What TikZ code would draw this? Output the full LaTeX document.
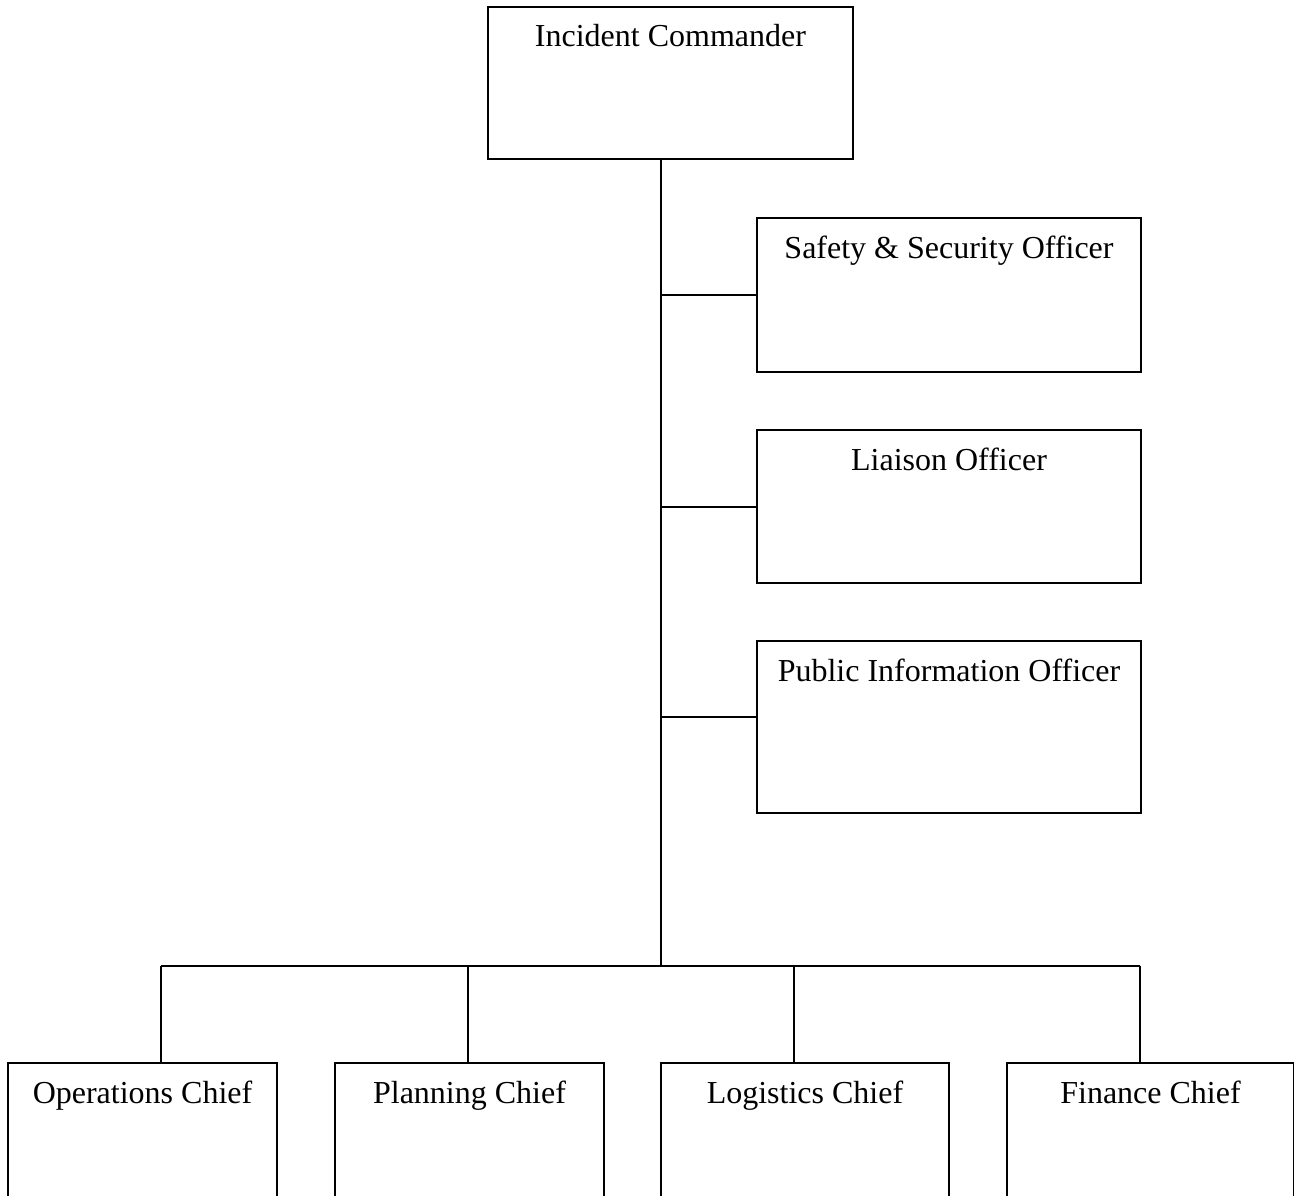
\documentclass[tikz,border=0pt]{standalone}
\usepackage{fontspec}
\setmainfont{Liberation Serif}
\begin{document}
\begin{tikzpicture}[x=1pt,y=-1pt,
  orgbox/.style={draw=black,line width=2pt,rectangle,anchor=north west,inner sep=0pt},
  lbl/.style={anchor=base,inner sep=0pt,font=\fontsize{32pt}{38pt}\selectfont},
  link/.style={draw=black,line width=2pt}]
\useasboundingbox (0,0) rectangle (1294,1196);
% top and staff boxes
\node[orgbox,minimum width=365pt,minimum height=152pt] (ic) at (487,6) {};
\node[orgbox,minimum width=384pt,minimum height=154pt] (safety) at (756,217) {};
\node[orgbox,minimum width=384pt,minimum height=153pt] (liaison) at (756,429) {};
\node[orgbox,minimum width=384pt,minimum height=172pt] (pio) at (756,640) {};
% section chiefs
\node[orgbox,minimum width=269pt,minimum height=134pt] (ops) at (7,1062) {};
\node[orgbox,minimum width=269pt,minimum height=134pt] (plan) at (334,1062) {};
\node[orgbox,minimum width=288pt,minimum height=134pt] (logi) at (660,1062) {};
\node[orgbox,minimum width=287pt,minimum height=134pt] (fin) at (1006,1062) {};
% labels
\node[lbl] (icl) at ([yshift=-41pt]ic.north) {Incident Commander};
\node[lbl] (safetyl) at ([yshift=-41pt]safety.north) {Safety \& Security Officer};
\node[lbl] (liaisonl) at ([yshift=-41pt]liaison.north) {Liaison Officer};
\node[lbl] (piol) at ([yshift=-41pt]pio.north) {Public Information Officer};
\node[lbl] (opsl) at ([yshift=-41pt]ops.north) {Operations Chief};
\node[lbl] (planl) at ([yshift=-41pt]plan.north) {Planning Chief};
\node[lbl] (logil) at ([yshift=-41pt]logi.north) {Logistics Chief};
\node[lbl] (finl) at ([yshift=-41pt]fin.north) {Finance Chief};
% junction coordinates
\coordinate (spine) at (661,966);
\coordinate (pioj) at (661,717);
\coordinate (d1) at (161,966);
\coordinate (d2) at (468,966);
\coordinate (d3) at (794,966);
\coordinate (d4) at (1140,966);
% connectors
\draw[link] (ic.south -| spine) -- (spine);
\draw[link] (safety.west) -- (safety.west -| spine);
\draw[link] (liaison.west) -- (liaison.west -| spine);
\draw[link] (pioj) -- (pioj -| pio.west);
\draw[link] (d1) -- (d4);
\draw[link] (d1) -- (d1 |- ops.north);
\draw[link] (d2) -- (d2 |- plan.north);
\draw[link] (d3) -- (d3 |- logi.north);
\draw[link] (d4) -- (d4 |- fin.north);
\end{tikzpicture}
\end{document}
